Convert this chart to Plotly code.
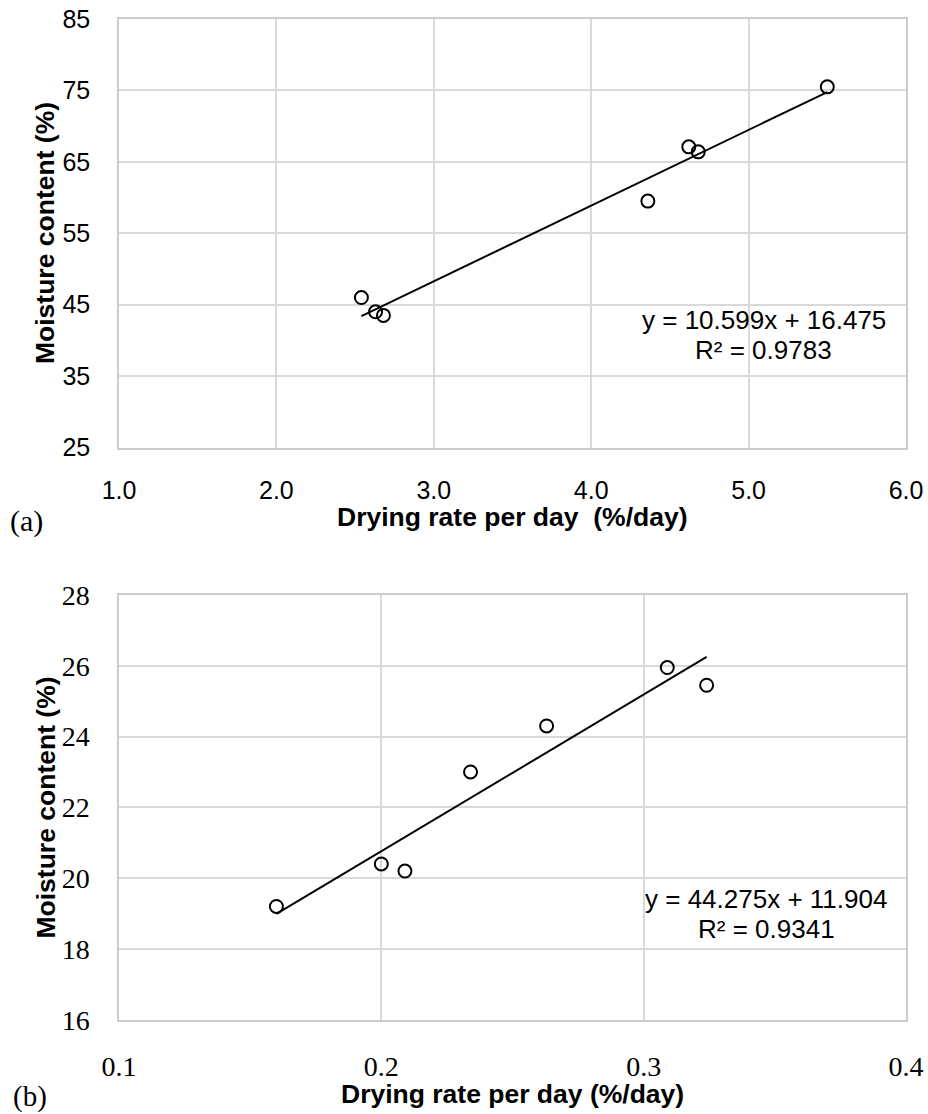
import plotly.graph_objects as go

# ---- data ----
a_rate = [2.54, 2.63, 2.68, 4.36, 4.62, 4.68, 5.50]
a_moist = [46.0, 44.0, 43.5, 59.5, 67.1, 66.4, 75.5]
a_slope, a_icpt, a_r2 = 10.599, 16.475, 0.9783

b_rate = [0.160, 0.200, 0.209, 0.234, 0.263, 0.309, 0.324]
b_moist = [19.2, 20.4, 20.2, 23.0, 24.3, 25.95, 25.45]
b_slope, b_icpt, b_r2 = 44.275, 11.904, 0.9341

a_xticks = [1, 2, 3, 4, 5, 6]
a_yticks = [25, 35, 45, 55, 65, 75, 85]
b_xticks = [0.1, 0.2, 0.3, 0.4]
b_yticks = [16, 18, 20, 22, 24, 26, 28]

x_title_a = "Drying rate per day \u00a0(%/day)"
x_title_b = "Drying rate per day (%/day)"
y_title = "Moisture content (%)"

W, H = 928, 1114
SANS = "Liberation Sans, Arial, sans-serif"
SERIF = "Liberation Serif, Times New Roman, serif"
GRID = "#d9d9d9"


def px(x):
    return x / W


def py(y):
    return 1 - y / H


fig = go.Figure()

marker = dict(symbol="circle-open", size=13, color="black", line=dict(width=2, color="black"))

fig.add_trace(go.Scatter(x=a_rate, y=a_moist, mode="markers", marker=marker,
                         xaxis="x", yaxis="y", showlegend=False))
ax0, ax1 = min(a_rate), max(a_rate)
fig.add_trace(go.Scatter(x=[ax0, ax1], y=[a_slope * ax0 + a_icpt, a_slope * ax1 + a_icpt],
                         mode="lines", line=dict(color="black", width=2),
                         xaxis="x", yaxis="y", showlegend=False))

fig.add_trace(go.Scatter(x=b_rate, y=b_moist, mode="markers", marker=marker,
                         xaxis="x2", yaxis="y2", showlegend=False))
bx0, bx1 = min(b_rate), max(b_rate)
fig.add_trace(go.Scatter(x=[bx0, bx1], y=[b_slope * bx0 + b_icpt, b_slope * bx1 + b_icpt],
                         mode="lines", line=dict(color="black", width=2),
                         xaxis="x2", yaxis="y2", showlegend=False))

xdom = [px(119), px(906)]
axis_common = dict(showgrid=True, gridcolor=GRID, gridwidth=1.5, zeroline=False,
                   showline=True, linecolor="#cccccc", linewidth=1.5, mirror=True,
                   ticks="", automargin=False)

fig.update_layout(
    width=W, height=H,
    margin=dict(l=0, r=0, t=0, b=0),
    paper_bgcolor="white", plot_bgcolor="white",
    xaxis=dict(domain=xdom, range=[1, 6], tickvals=a_xticks, tickformat=".1f",
               anchor="y", ticklabelstandoff=20,
               tickfont=dict(family=SANS, size=25, color="black"), **axis_common),
    yaxis=dict(domain=[py(447.5), py(19)], range=[25, 85], tickvals=a_yticks,
               anchor="x", ticklabelstandoff=22,
               tickfont=dict(family=SANS, size=25, color="black"), **axis_common),
    xaxis2=dict(domain=xdom, range=[0.1, 0.4], tickvals=b_xticks, tickformat=".1f",
                anchor="y2", ticklabelstandoff=21,
                tickfont=dict(family=SERIF, size=28, color="black"), **axis_common),
    yaxis2=dict(domain=[py(1019.7), py(595)], range=[16, 28], tickvals=b_yticks,
                anchor="x2", ticklabelstandoff=22,
                tickfont=dict(family=SERIF, size=28, color="black"), **axis_common),
)


def ann(text, x, y, size, family=SANS, angle=0, yanchor="middle"):
    fig.add_annotation(text=text, x=px(x), y=py(y), xref="paper", yref="paper",
                       xanchor="center", yanchor=yanchor, showarrow=False, borderpad=0,
                       textangle=angle, font=dict(family=family, size=size, color="black"))


# axis titles
ann("<b>" + x_title_a + "</b>", 512.5, 517, 26.5)
ann("<b>" + x_title_b + "</b>", 512.5, 1094, 26.5)
ann("<b>" + y_title + "</b>", 45, 233, 26.5, angle=-90)
ann("<b>" + y_title + "</b>", 45, 807.5, 26.5, angle=-90)

# panel labels
ann("(a)", 26, 521, 30, family=SERIF)
ann("(b)", 30, 1113.5, 29, family=SERIF, yanchor="bottom")

# equations
ann(f"y = {a_slope}x + {a_icpt}", 763.5, 320, 26)
ann(f"R² = {a_r2}", 763.8, 350, 26)
ann(f"y = {b_slope}x + {b_icpt}", 765.5, 899, 26)
ann(f"R² = {b_r2}", 766, 929, 26)

fig.write_html("out.html")
